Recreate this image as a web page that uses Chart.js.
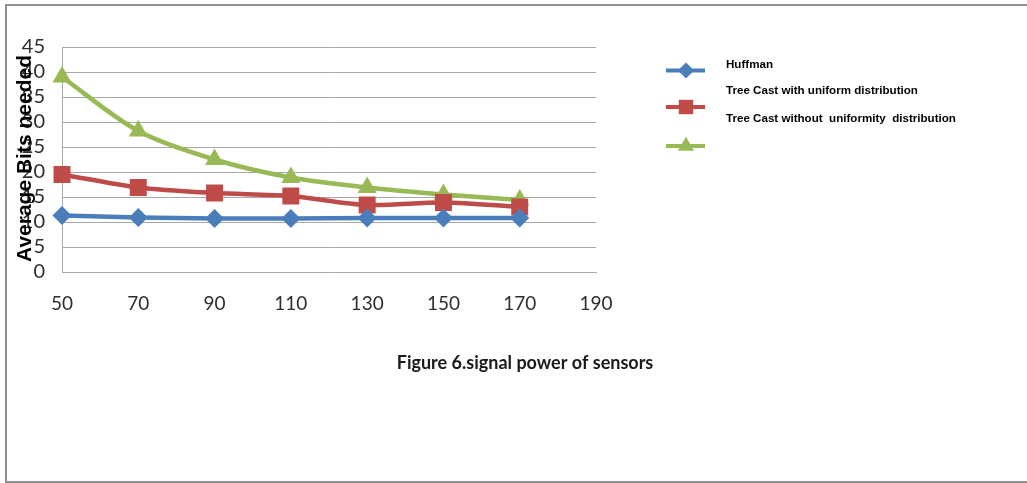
<!DOCTYPE html>
<html>
<head>
<meta charset="utf-8">
<script src="https://cdn.jsdelivr.net/npm/chart.js@4.4.1/dist/chart.umd.min.js"></script>
<style>
  html, body { margin: 0; padding: 0; background: #fff; overflow: hidden; }
  #wrap { width: 1027px; height: 483px; position: relative; }
</style>
</head>
<body>
<div id="wrap"><canvas id="c"></canvas></div>
<script>
// Number of sensors on the horizontal axis
const sensorCounts = [50, 70, 90, 110, 130, 150, 170];

// Average bits needed per scheme
const huffman = [11.3, 10.9, 10.7, 10.7, 10.8, 10.8, 10.8];
const treeCastUniform = [19.5, 16.9, 15.8, 15.2, 13.4, 13.9, 13.0];
const treeCastNonUniform = [39.0, 28.2, 22.5, 18.9, 16.9, 15.5, 14.4];

// Axis tick labels
const xTicks = [50, 70, 90, 110, 130, 150, 170, 190];
const yTicks = [0, 5, 10, 15, 20, 25, 30, 35, 40, 45];

// Texts
const seriesNames = [
  'Huffman',
  'Tree Cast with uniform distribution',
  'Tree Cast without  uniformity  distribution'
];
const axisTitle = 'Average Bits needed';
const figureCaption = 'Figure 6.signal power of sensors';

const BLUE = '#4a7ebb';
const RED = '#be4b48';
const GREEN = '#98b954';
const GRID = '#a8a8a8';
const HUMANIST = "Lato, 'Open Sans', sans-serif";
const SANS = "'Liberation Sans', Arial, sans-serif";

function toPoints(values) {
  return sensorCounts.map((x, i) => ({ x: x, y: values[i] }));
}

function series(label, values, color, style, radius) {
  return {
    label: label,
    data: toPoints(values),
    borderColor: color,
    backgroundColor: color,
    borderWidth: 4.5,
    tension: 0.3,
    pointStyle: style,
    pointRadius: radius,
    pointHoverRadius: radius,
    pointBorderWidth: 0,
    pointBackgroundColor: color,
    clip: false
  };
}

// Frame, y-axis title, side legend and caption
const decor = {
  id: 'decor',
  beforeDraw(chart) {
    const ctx = chart.ctx;
    ctx.save();
    ctx.strokeStyle = '#8f8f8f';
    ctx.lineWidth = 2;
    ctx.beginPath();
    ctx.moveTo(1027, 5);
    ctx.lineTo(6, 5);
    ctx.lineTo(6, 482);
    ctx.lineTo(1027, 482);
    ctx.stroke();
    ctx.restore();
  },
  afterDraw(chart) {
    const ctx = chart.ctx;
    const area = chart.chartArea;

    // rotated axis title
    ctx.save();
    ctx.translate(31, (area.top + area.bottom) / 2 - 1);
    ctx.rotate(-Math.PI / 2);
    ctx.font = 'bold 21px ' + SANS;
    ctx.fillStyle = '#000';
    ctx.textAlign = 'center';
    ctx.textBaseline = 'alphabetic';
    ctx.fillText(axisTitle, 0, 0);
    ctx.restore();

    // legend: sample lines with markers, and labels in their own column
    const markerY = [70.5, 107, 146];
    const textY = [65, 90.5, 119];
    const sets = chart.data.datasets;
    ctx.save();
    sets.forEach((ds, i) => {
      ctx.strokeStyle = ds.borderColor;
      ctx.lineWidth = 4;
      ctx.beginPath();
      ctx.moveTo(666, markerY[i]);
      ctx.lineTo(705, markerY[i]);
      ctx.stroke();
      ctx.fillStyle = ds.borderColor;
      Chart.helpers.drawPoint(ctx, {
        pointStyle: ds.pointStyle,
        radius: ds.pointRadius * 0.85,
        rotation: 0,
        borderWidth: 0
      }, 686, markerY[i]);
    });
    ctx.font = 'bold 11.6px ' + SANS;
    ctx.fillStyle = '#000';
    ctx.textAlign = 'left';
    ctx.textBaseline = 'middle';
    sets.forEach((ds, i) => {
      ctx.fillText(ds.label, 726, textY[i]);
    });
    ctx.restore();

    // caption below the chart
    ctx.save();
    ctx.font = 'bold 18px ' + HUMANIST;
    ctx.fillStyle = '#1a1a1a';
    ctx.textAlign = 'center';
    ctx.textBaseline = 'middle';
    ctx.fillText(figureCaption, 525, 363);
    ctx.restore();
  }
};

new Chart(document.getElementById('c'), {
  type: 'line',
  data: {
    datasets: [
      series(seriesNames[0], huffman, BLUE, 'rectRot', 9.5),
      series(seriesNames[1], treeCastUniform, RED, 'rect', 12),
      series(seriesNames[2], treeCastNonUniform, GREEN, 'triangle', 11)
    ]
  },
  options: {
    responsive: true,
    maintainAspectRatio: false,
    animation: false,
    events: [],
    layout: { padding: { top: 47, right: 431, bottom: 171, left: 0 } },
    plugins: {
      legend: { display: false },
      title: { display: false },
      tooltip: { enabled: false }
    },
    scales: {
      x: {
        type: 'linear',
        min: xTicks[0],
        max: xTicks[xTicks.length - 1],
        afterBuildTicks(s) { s.ticks = xTicks.map(v => ({ value: v })); },
        afterFit(s) { s.height = 40; },
        grid: { display: false, drawTicks: false },
        border: { display: true, color: GRID, width: 1 },
        ticks: {
          padding: 20,
          maxRotation: 0,
          autoSkip: false,
          color: '#2e2e2e',
          font: { family: HUMANIST, size: 19 }
        }
      },
      y: {
        type: 'linear',
        min: yTicks[0],
        max: yTicks[yTicks.length - 1],
        afterBuildTicks(s) { s.ticks = yTicks.map(v => ({ value: v })); },
        afterFit(s) { s.width = 62; },
        grid: { color: GRID, lineWidth: 1, drawTicks: false },
        border: { display: true, color: GRID, width: 1 },
        ticks: {
          padding: 17,
          autoSkip: false,
          color: '#2e2e2e',
          font: { family: HUMANIST, size: 20 }
        }
      }
    }
  },
  plugins: [decor]
});
</script>
</body>
</html>
